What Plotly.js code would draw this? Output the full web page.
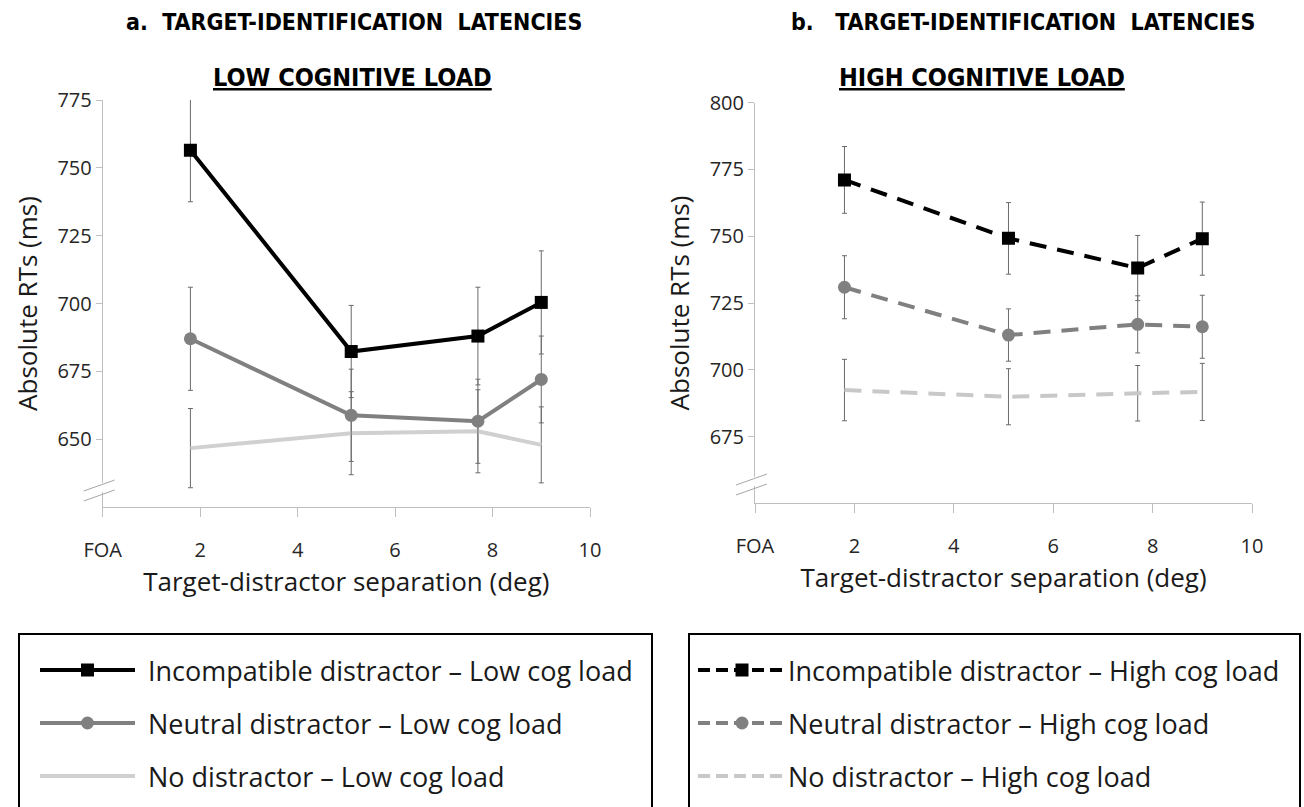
<!DOCTYPE html>
<html>
<head>
<meta charset="utf-8">
<script src="https://cdn.plot.ly/plotly-3.0.1.min.js"></script>
<style>html,body{margin:0;padding:0;background:#fff;}#chart{width:1304px;height:807px;}</style>
</head>
<body>
<div id="chart"></div>
<script>
// ---------- data ----------
const separationLow = [1.8, 5.1, 7.7, 9.0];
const separationHigh = [1.8, 5.1, 7.7, 9.0];
const xTickVals = [0, 2, 4, 6, 8, 10];
const xTickText = ['FOA', '2', '4', '6', '8', '10'];
const yTicksLow = [650, 675, 700, 725, 750, 775];
const yTicksHigh = [675, 700, 725, 750, 775, 800];

const incompatLow = [756.5, 682.3, 688.0, 700.4];
const incompatLowErr = [19, 17, 18, 19];
const neutralLow = [687.0, 658.8, 656.6, 672.0];
const neutralLowErr = [19, 17, 15.5, 16];
const noDistLow = [646.7, 652.2, 652.9, 647.9];
const noDistLowErr = [14.6, 15.3, 15.3, 14];

const incompatHigh = [771.1, 749.2, 738.1, 749.1];
const incompatHighErr = [12.5, 13.4, 12.2, 13.7];
const neutralHigh = [730.9, 713.0, 717.0, 716.1];
const neutralHighErr = [11.8, 9.8, 10.7, 11.8];
const noDistHigh = [692.4, 689.9, 691.2, 691.7];
const noDistHighErr = [11.5, 10.5, 10.4, 10.7];

const legendLabelsLow = ['Incompatible distractor \u2013 Low cog load', 'Neutral distractor \u2013 Low cog load', 'No distractor \u2013 Low cog load'];
const legendLabelsHigh = ['Incompatible distractor \u2013 High cog load', 'Neutral distractor \u2013 High cog load', 'No distractor \u2013 High cog load'];

// ---------- styling ----------
const W = 1304, H = 807;
const px = x => x / W;
const py = y => 1 - y / H;
const FONT = 'Open Sans, DejaVu Sans, sans-serif';
const TITLEFONT = 'Liberation Sans Narrow, DejaVu Sans Condensed, Open Sans, sans-serif';
const C_BLACK = '#000000', C_MID = '#808080', C_LIGHT = '#d0d0d0';
const ERRC = '#6a6a6a';

function errBar(arr) { return {type: 'data', array: arr, visible: true, color: ERRC, thickness: 1, width: 2.5}; }

const traces = [
  {x: separationLow, y: noDistLow, error_y: errBar(noDistLowErr), xaxis: 'x', yaxis: 'y', mode: 'lines',
   line: {color: C_LIGHT, width: 4}, name: legendLabelsLow[2]},
  {x: separationLow, y: neutralLow, error_y: errBar(neutralLowErr), xaxis: 'x', yaxis: 'y', mode: 'lines+markers',
   line: {color: C_MID, width: 4}, marker: {symbol: 'circle', size: 13, color: C_MID}, name: legendLabelsLow[1]},
  {x: separationLow, y: incompatLow, error_y: errBar(incompatLowErr), xaxis: 'x', yaxis: 'y', mode: 'lines+markers',
   line: {color: C_BLACK, width: 4}, marker: {symbol: 'square', size: 13, color: C_BLACK}, name: legendLabelsLow[0]},
  {x: separationHigh, y: noDistHigh, error_y: errBar(noDistHighErr), xaxis: 'x2', yaxis: 'y2', mode: 'lines',
   line: {color: '#c8c8c8', width: 4, dash: '17px,11px'}, name: legendLabelsHigh[2]},
  {x: separationHigh, y: neutralHigh, error_y: errBar(neutralHighErr), xaxis: 'x2', yaxis: 'y2', mode: 'lines+markers',
   line: {color: C_MID, width: 4, dash: '17px,11px'}, marker: {symbol: 'circle', size: 13, color: C_MID}, name: legendLabelsHigh[1]},
  {x: separationHigh, y: incompatHigh, error_y: errBar(incompatHighErr), xaxis: 'x2', yaxis: 'y2', mode: 'lines+markers',
   line: {color: C_BLACK, width: 4, dash: '17px,11px'}, marker: {symbol: 'square', size: 13, color: C_BLACK}, name: legendLabelsHigh[0]}
];

function xAxis(domain, anchor) {
  return {
    domain: domain, anchor: anchor, range: [0, 10], tickmode: 'array', tickvals: xTickVals, ticktext: xTickText,
    showline: true, linecolor: '#bfbfbf', linewidth: 1, ticks: 'outside', ticklen: 9, tickcolor: '#bfbfbf',
    showgrid: false, zeroline: false, ticklabelstandoff: 16,
    tickfont: {family: FONT, size: 20, color: '#262626'},
    title: {text: 'Target-distractor separation (deg)', font: {family: FONT, size: 26, color: '#1a1a1a'}, standoff: 4}
  };
}
function yAxis(domain, anchor, range, ticks) {
  return {
    domain: domain, anchor: anchor, range: range, tickmode: 'array', tickvals: ticks,
    showline: true, linecolor: '#bfbfbf', linewidth: 1, ticks: 'outside', ticklen: 6, tickcolor: '#bfbfbf',
    showgrid: false, zeroline: false,
    tickfont: {family: FONT, size: 20, color: '#262626'},
    title: {text: 'Absolute RTs (ms)', font: {family: FONT, size: 26, color: '#1a1a1a'}, standoff: 12}
  };
}

const shapes = [];
const annotations = [];

// axis break marks
function breakMarks(ax, yTop) {
  shapes.push({type: 'rect', xref: 'paper', yref: 'paper', x0: px(ax - 2), x1: px(ax + 2), y0: py(yTop + 12), y1: py(yTop + 3),
    fillcolor: '#ffffff', line: {width: 0}, layer: 'above'});
  shapes.push({type: 'line', xref: 'paper', yref: 'paper', x0: px(ax - 19), y0: py(yTop + 11), x1: px(ax + 12), y1: py(yTop), line: {color: '#a6a6a6', width: 1}});
  shapes.push({type: 'line', xref: 'paper', yref: 'paper', x0: px(ax - 19), y0: py(yTop + 21), x1: px(ax + 12), y1: py(yTop + 10), line: {color: '#a6a6a6', width: 1}});
}
breakMarks(102.7, 480);
breakMarks(755, 474);

// titles
annotations.push({xref: 'paper', yref: 'paper', x: px(354), y: py(22), text: '<b>a.  TARGET-IDENTIFICATION  LATENCIES</b>',
  showarrow: false, xanchor: 'center', yanchor: 'middle', font: {family: TITLEFONT, size: 23, color: '#000'}});
annotations.push({xref: 'paper', yref: 'paper', x: px(1023), y: py(22), text: '<b>b.   TARGET-IDENTIFICATION  LATENCIES</b>',
  showarrow: false, xanchor: 'center', yanchor: 'middle', font: {family: TITLEFONT, size: 23, color: '#000'}});
annotations.push({xref: 'paper', yref: 'paper', x: px(352), y: py(78), text: '<b><u>LOW COGNITIVE LOAD</u></b>',
  showarrow: false, xanchor: 'center', yanchor: 'middle', font: {family: TITLEFONT, size: 25, color: '#000'}});
annotations.push({xref: 'paper', yref: 'paper', x: px(982), y: py(78), text: '<b><u>HIGH COGNITIVE LOAD</u></b>',
  showarrow: false, xanchor: 'center', yanchor: 'middle', font: {family: TITLEFONT, size: 25, color: '#000'}});

// custom legends
function legendBox(x0, x1, y0, y1) {
  shapes.push({type: 'rect', xref: 'paper', yref: 'paper', x0: px(x0), x1: px(x1), y0: py(y1), y1: py(y0),
    line: {color: '#000', width: 2}, fillcolor: 'rgba(0,0,0,0)'});
}
legendBox(19, 652, 634, 812);
legendBox(689, 1300, 634, 812);

const rowsY = [670, 723, 776];
function legendEntry(lx0, lx1, yy, color, dash, marker, textX, label) {
  shapes.push({type: 'line', xref: 'paper', yref: 'paper', x0: px(lx0), x1: px(lx1), y0: py(yy), y1: py(yy),
    line: {color: color, width: 4, dash: dash}});
  const mx = (lx0 + lx1) / 2;
  if (marker === 'square') {
    shapes.push({type: 'rect', xref: 'paper', yref: 'paper', x0: px(mx - 6.5), x1: px(mx + 6.5), y0: py(yy + 6.5), y1: py(yy - 6.5),
      fillcolor: color, line: {width: 0}});
  } else if (marker === 'circle') {
    shapes.push({type: 'circle', xref: 'paper', yref: 'paper', x0: px(mx - 6.5), x1: px(mx + 6.5), y0: py(yy + 6.5), y1: py(yy - 6.5),
      fillcolor: color, line: {width: 0}});
  }
  annotations.push({xref: 'paper', yref: 'paper', x: px(textX), y: py(yy), text: label, showarrow: false,
    xanchor: 'left', yanchor: 'middle', font: {family: FONT, size: 27, color: '#1a1a1a'}});
}
legendEntry(40, 135, rowsY[0], C_BLACK, 'solid', 'square', 146, legendLabelsLow[0]);
legendEntry(40, 135, rowsY[1], C_MID, 'solid', 'circle', 146, legendLabelsLow[1]);
legendEntry(40, 135, rowsY[2], C_LIGHT, 'solid', null, 146, legendLabelsLow[2]);
legendEntry(698, 786, rowsY[0], C_BLACK, '12px,6px', 'square', 786, legendLabelsHigh[0]);
legendEntry(698, 786, rowsY[1], C_MID, '12px,6px', 'circle', 786, legendLabelsHigh[1]);
legendEntry(698, 786, rowsY[2], '#c8c8c8', '12px,6px', null, 786, legendLabelsHigh[2]);

const layout = {
  width: W, height: H, margin: {l: 0, r: 0, t: 0, b: 0}, paper_bgcolor: '#fff', plot_bgcolor: '#fff',
  showlegend: false,
  xaxis: xAxis([px(102.7), px(590)], 'y'),
  yaxis: yAxis([py(507), py(100)], 'x', [625, 775], yTicksLow),
  xaxis2: xAxis([px(755), px(1252)], 'y2'),
  yaxis2: yAxis([py(503.3), py(102.7)], 'x2', [650, 800], yTicksHigh),
  shapes: shapes, annotations: annotations
};

Plotly.newPlot('chart', traces, layout, {displayModeBar: false, staticPlot: true});
</script>
</body>
</html>
